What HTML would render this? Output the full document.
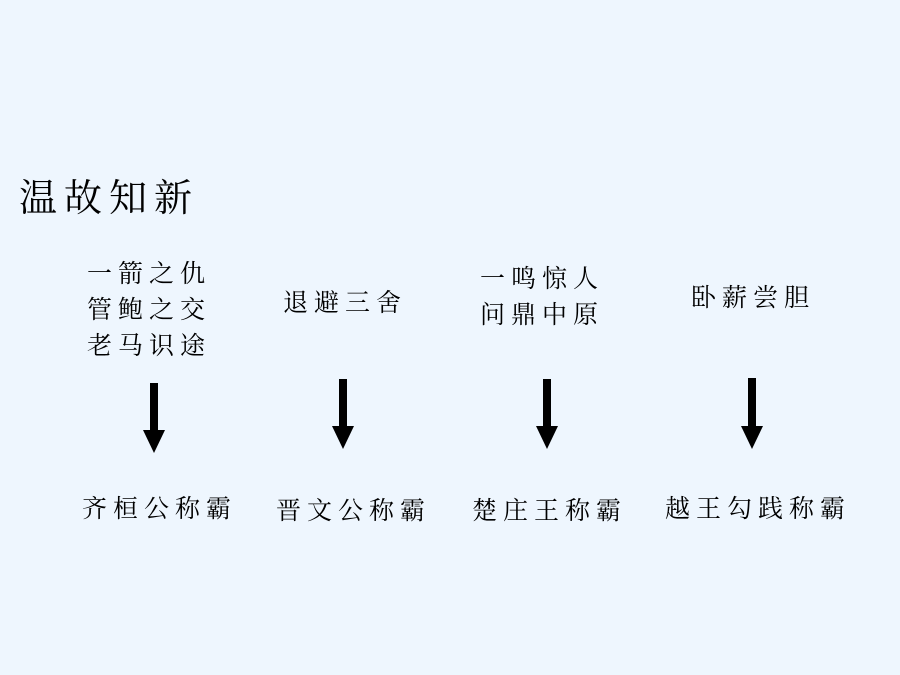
<!DOCTYPE html>
<html><head><meta charset="utf-8"><style>
html,body{margin:0;padding:0}
body{width:900px;height:675px;background:#eef6fe;position:relative;overflow:hidden;font-family:"Liberation Serif","Noto Serif CJK SC",serif;color:#000}
.t{position:absolute;font-size:25px;letter-spacing:6px;line-height:36px;white-space:nowrap}
</style></head><body>
<div class="t" style="left:19px;top:177px;font-size:38px;letter-spacing:7px;line-height:44px">温故知新</div>
<div class="t" style="left:87px;top:257px">一箭之仇<br>管鲍之交<br>老马识途</div>
<div class="t" style="left:283px;top:286px">退避三舍</div>
<div class="t" style="left:480px;top:262px">一鸣惊人<br>问鼎中原</div>
<div class="t" style="left:691px;top:281px">卧薪尝胆</div>
<div class="t" style="left:82px;top:492px">齐桓公称霸</div>
<div class="t" style="left:276px;top:494px">晋文公称霸</div>
<div class="t" style="left:472px;top:494px">楚庄王称霸</div>
<div class="t" style="left:665px;top:492px">越王勾践称霸</div>
<svg width="900" height="675" style="position:absolute;left:0;top:0">
<g fill="#000">
<rect x="150" y="383" width="8" height="48"/><polygon points="143,430 165,430 154,453"/>
<rect x="339" y="379" width="8" height="48"/><polygon points="332,426 354,426 343,449"/>
<rect x="543" y="379" width="8" height="48"/><polygon points="536,426 558,426 547,449"/>
<rect x="748" y="378" width="8" height="49"/><polygon points="741,426 763,426 752,449"/>
</g></svg>
</body></html>
